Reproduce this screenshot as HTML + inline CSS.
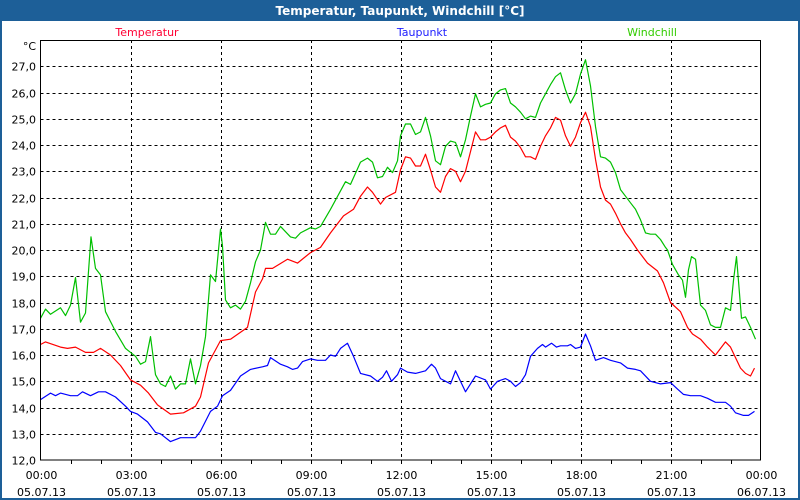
<!DOCTYPE html>
<html><head><meta charset="utf-8"><style>
html,body{margin:0;padding:0;background:#fff}
svg{display:block;font-family:"DejaVu Sans","Liberation Sans",sans-serif}
</style></head><body>
<svg id="chart" width="800" height="500" viewBox="0 0 800 500">
<rect x="0" y="0" width="800" height="500" fill="#1d5f98"/>
<rect x="2" y="21" width="796" height="477" fill="#fff"/>
<text x="400" y="15" text-anchor="middle" fill="#fff" font-size="12" font-weight="bold">Temperatur, Taupunkt, Windchill [°C]</text>
<text x="147" y="36" text-anchor="middle" fill="#ff0033" font-size="11">Temperatur</text>
<text x="422" y="36" text-anchor="middle" fill="#2020ff" font-size="11">Taupunkt</text>
<text x="652" y="36" text-anchor="middle" fill="#33cc00" font-size="11">Windchill</text>
<text x="36" y="50" text-anchor="end" fill="#000" font-size="11">°C</text>
<g id="grid"></g><g id="axes"></g><g id="series"></g>
<rect x="40.5" y="40.5" width="720" height="419.5" fill="none" stroke="#000"/>
</svg>
<script>
const yTicks=[12,13,14,15,16,17,18,19,20,21,22,23,24,25,26,27];
const xTickHours=[0,3,6,9,12,15,18,21,24];
const xTickTimes=["00:00","03:00","06:00","09:00","12:00","15:00","18:00","21:00","00:00"];
const xTickDates=["05.07.13","05.07.13","05.07.13","05.07.13","05.07.13","05.07.13","05.07.13","05.07.13","06.07.13"];
const tempMin=[0,10,40,54,70,90,106,120,140,160,180,200,216,234,260,286,310,320,336,360,380,414,430,444,450,464,494,514,540,560,580,606,626,640,654,664,680,690,710,720,730,740,750,760,770,780,790,800,810,820,830,840,850,860,870,880,890,900,910,920,930,940,950,960,970,980,990,1000,1010,1020,1030,1040,1050,1060,1070,1080,1090,1100,1110,1120,1130,1140,1150,1160,1170,1180,1194,1214,1234,1246,1260,1280,1294,1304,1320,1334,1350,1370,1380,1400,1410,1420,1428];
const tempVal=[16.4,16.5,16.3,16.25,16.3,16.1,16.1,16.25,16.0,15.6,15.05,14.85,14.55,14.1,13.75,13.8,14.05,14.4,15.7,16.55,16.6,17.05,18.4,18.9,19.3,19.3,19.65,19.5,19.9,20.1,20.65,21.3,21.55,22.05,22.4,22.2,21.75,22.0,22.2,23.05,23.55,23.5,23.2,23.2,23.65,23.05,22.4,22.2,22.8,23.1,23.0,22.6,23.0,23.75,24.5,24.2,24.2,24.3,24.5,24.65,24.75,24.3,24.15,23.9,23.55,23.55,23.45,23.95,24.35,24.65,25.05,24.95,24.35,23.95,24.3,24.85,25.25,24.7,23.45,22.4,21.9,21.75,21.4,21.0,20.65,20.4,20.0,19.5,19.2,18.75,18.0,17.65,17.05,16.8,16.6,16.3,16.0,16.5,16.3,15.5,15.3,15.2,15.5];
const dewMin=[0,20,30,40,60,74,84,100,116,130,150,170,180,194,214,230,240,260,280,310,320,340,354,364,380,400,420,444,454,460,480,494,504,514,524,540,554,570,580,590,600,614,626,640,660,674,684,692,702,714,720,734,750,770,782,790,800,820,830,850,870,890,900,914,930,940,950,960,970,980,994,1004,1010,1022,1032,1040,1054,1060,1070,1080,1090,1100,1110,1126,1140,1160,1174,1190,1200,1220,1240,1260,1274,1286,1300,1320,1334,1350,1370,1380,1390,1406,1416,1428];
const dewVal=[14.3,14.55,14.45,14.55,14.45,14.45,14.6,14.45,14.6,14.6,14.4,14.05,13.85,13.75,13.45,13.05,13.0,12.7,12.85,12.85,13.1,13.85,14.05,14.45,14.65,15.2,15.45,15.55,15.6,15.9,15.65,15.55,15.45,15.5,15.75,15.85,15.8,15.8,16.0,15.95,16.25,16.45,15.95,15.3,15.2,15.0,15.15,15.4,15.0,15.25,15.5,15.35,15.3,15.4,15.65,15.5,15.1,14.9,15.4,14.6,15.2,15.05,14.7,15.0,15.1,15.0,14.8,14.95,15.25,15.95,16.25,16.4,16.3,16.45,16.3,16.35,16.35,16.4,16.25,16.3,16.8,16.35,15.8,15.9,15.8,15.7,15.5,15.45,15.4,15.0,14.9,14.95,14.7,14.5,14.45,14.45,14.35,14.2,14.2,14.05,13.8,13.7,13.7,13.85];
const chillMin=[0,10,20,40,50,60,70,80,90,101,110,120,130,150,170,190,200,210,220,230,240,250,260,270,280,290,300,310,320,330,340,350,360,364,370,380,390,400,410,420,430,440,450,460,470,480,500,510,520,540,550,560,580,610,620,640,654,664,674,684,694,704,714,720,730,740,750,760,770,780,790,800,810,820,830,840,850,860,870,880,890,900,910,920,930,940,950,960,970,980,990,1000,1010,1020,1030,1040,1050,1060,1070,1080,1090,1100,1110,1120,1130,1140,1150,1160,1170,1180,1190,1200,1210,1220,1230,1240,1250,1254,1264,1276,1284,1290,1296,1302,1310,1320,1330,1340,1350,1360,1370,1380,1386,1392,1402,1410,1420,1430];
const chillVal=[17.4,17.75,17.55,17.8,17.5,17.9,18.95,17.25,17.6,20.5,19.3,19.05,17.65,16.9,16.25,15.95,15.65,15.75,16.7,15.25,14.9,14.8,15.2,14.7,14.9,14.9,15.85,14.9,15.6,16.7,19.05,18.8,20.8,20.15,18.1,17.8,17.9,17.75,18.05,18.75,19.55,20.0,21.05,20.6,20.6,20.9,20.5,20.45,20.65,20.85,20.8,20.9,21.55,22.6,22.5,23.35,23.5,23.35,22.75,22.8,23.15,22.95,23.4,24.35,24.8,24.8,24.4,24.5,25.05,24.35,23.4,23.25,23.95,24.15,24.1,23.55,24.2,25.1,25.95,25.45,25.55,25.6,25.95,26.1,26.15,25.6,25.45,25.25,25.0,25.1,25.05,25.6,25.95,26.3,26.6,26.75,26.1,25.6,25.95,26.7,27.25,26.25,24.7,23.55,23.5,23.35,22.95,22.3,22.05,21.8,21.55,21.15,20.65,20.6,20.6,20.4,20.1,20.0,19.45,19.05,18.85,18.2,19.25,19.75,19.65,17.9,17.7,17.15,17.05,17.05,17.8,17.7,18.85,19.75,17.4,17.45,17.05,16.6];

const NS='http://www.w3.org/2000/svg';
const X0=40.5,X1=760.5,Y0=460,Y1=40;
function xScale(min){return X0+(min/1440)*(X1-X0);}
function yScale(v){return Y0-(v-12)/16*(Y0-Y1);}
function mk(tag,attrs,parent){const e=document.createElementNS(NS,tag);for(const k in attrs)e.setAttribute(k,attrs[k]);parent.appendChild(e);return e;}
const grid=document.getElementById('grid'),axes=document.getElementById('axes'),ser=document.getElementById('series');
yTicks.forEach(v=>{
  const y=Math.round(yScale(v))+0.5;
  if(v>12&&v<28){const l=mk('line',{x1:X0,x2:X1,y1:y,y2:y,stroke:'#000','stroke-dasharray':'3,3'},grid);
  
  }
  const t=mk('text',{x:36,y:y+4,'text-anchor':'end','font-size':11,fill:'#000'},axes);
  t.textContent=v.toFixed(1).replace('.',',');
  
  
});
for(let h=1;h<24;h++){
  const x=Math.round(xScale(h*60))+0.5;
  const tk=mk('line',{x1:x,x2:x,y1:460,y2:464,stroke:'#000'},axes);
  
  
}
xTickHours.forEach((h,i)=>{
  const x=Math.round(xScale(h*60))+0.5;
  if(h>0&&h<24){const l=mk('line',{x1:x,x2:x,y1:Y1,y2:Y0,stroke:'#000','stroke-dasharray':'3,3'},grid);
  
  }
  const t1=mk('text',{x:x,y:479,'text-anchor':'middle','font-size':11,fill:'#000'},axes);
  t1.textContent=xTickTimes[i];
  
  
  const t2=mk('text',{x:x,y:496,'text-anchor':'middle','font-size':11,fill:'#000'},axes);
  t2.textContent=xTickDates[i];
  
  
});
function line(ts,vs,color,name){
  const n=Math.min(ts.length,vs.length);let d='';
  for(let i=0;i<n;i++)d+=(i?'L':'M')+xScale(ts[i]).toFixed(1)+','+yScale(vs[i]).toFixed(1);
  const p=mk('path',{d:d,fill:'none',stroke:color,'stroke-width':1.2,'stroke-linejoin':'round'},ser);
  
  
}
line(dewMin,dewVal,'#0000ff','taupunkt-line');
line(tempMin,tempVal,'#ff0000','temperatur-line');
line(chillMin,chillVal,'#00c000','windchill-line');
</script>
</body></html>
